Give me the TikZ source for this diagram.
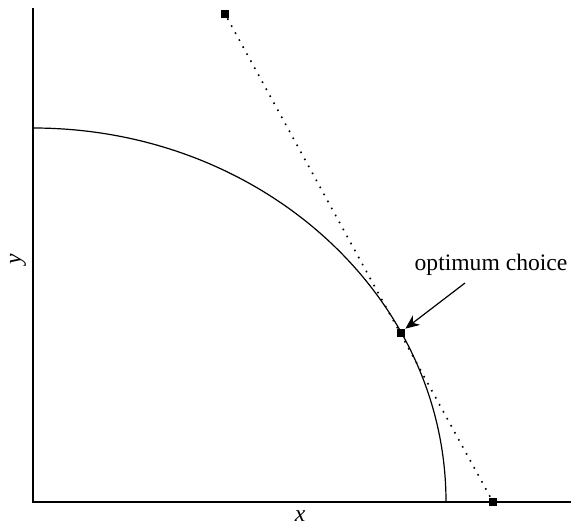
\documentclass[tikz,border=0pt]{standalone}
\usepackage{fontspec}
\setmainfont{Liberation Serif}
\usetikzlibrary{arrows.meta}
\begin{document}
\begin{tikzpicture}[
    x=0.5pt, y=0.5pt,
    axis/.style={line width=0.6pt},
    sq/.style={rectangle, fill=black, minimum size=4pt, inner sep=0pt},
    tangent/.style={line width=0.8pt, dash pattern=on 0.8pt off 3.2pt},
    arrow/.style={-{Stealth[length=7pt, width=6pt]}, line width=0.6pt},
    every node/.style={font=\fontsize{11.8}{14}\selectfont}
]
    \useasboundingbox (-33,-24) rectangle (538,502);

    % Axes
    \coordinate (o) at (0,0);
    \coordinate (ytop) at (0,494);
    \coordinate (xend) at (538,0);
    \draw[axis] (ytop) -- (o) -- (xend);
    \node (xlab) at (267,-14) {\itshape x};
    \node[rotate=90] (ylab) at (-15,243) {\itshape y};

    % Frontier
    \draw[line width=0.6pt] (0,374) arc[start angle=90, end angle=0, x radius=413, y radius=374];

    % Tangent line
    \node[sq] (top) at (192,488) {};
    \node[sq] (bottom) at (460,0) {};
    \node[sq] (opt) at (368,169) {};
    \draw[tangent] (top) -- (bottom);

    % Label
    \node (label) at (458,237) {optimum choice};
    \coordinate (start) at (432,219);
    \draw[arrow] (start) -- (opt.north east);
\end{tikzpicture}
\end{document}
